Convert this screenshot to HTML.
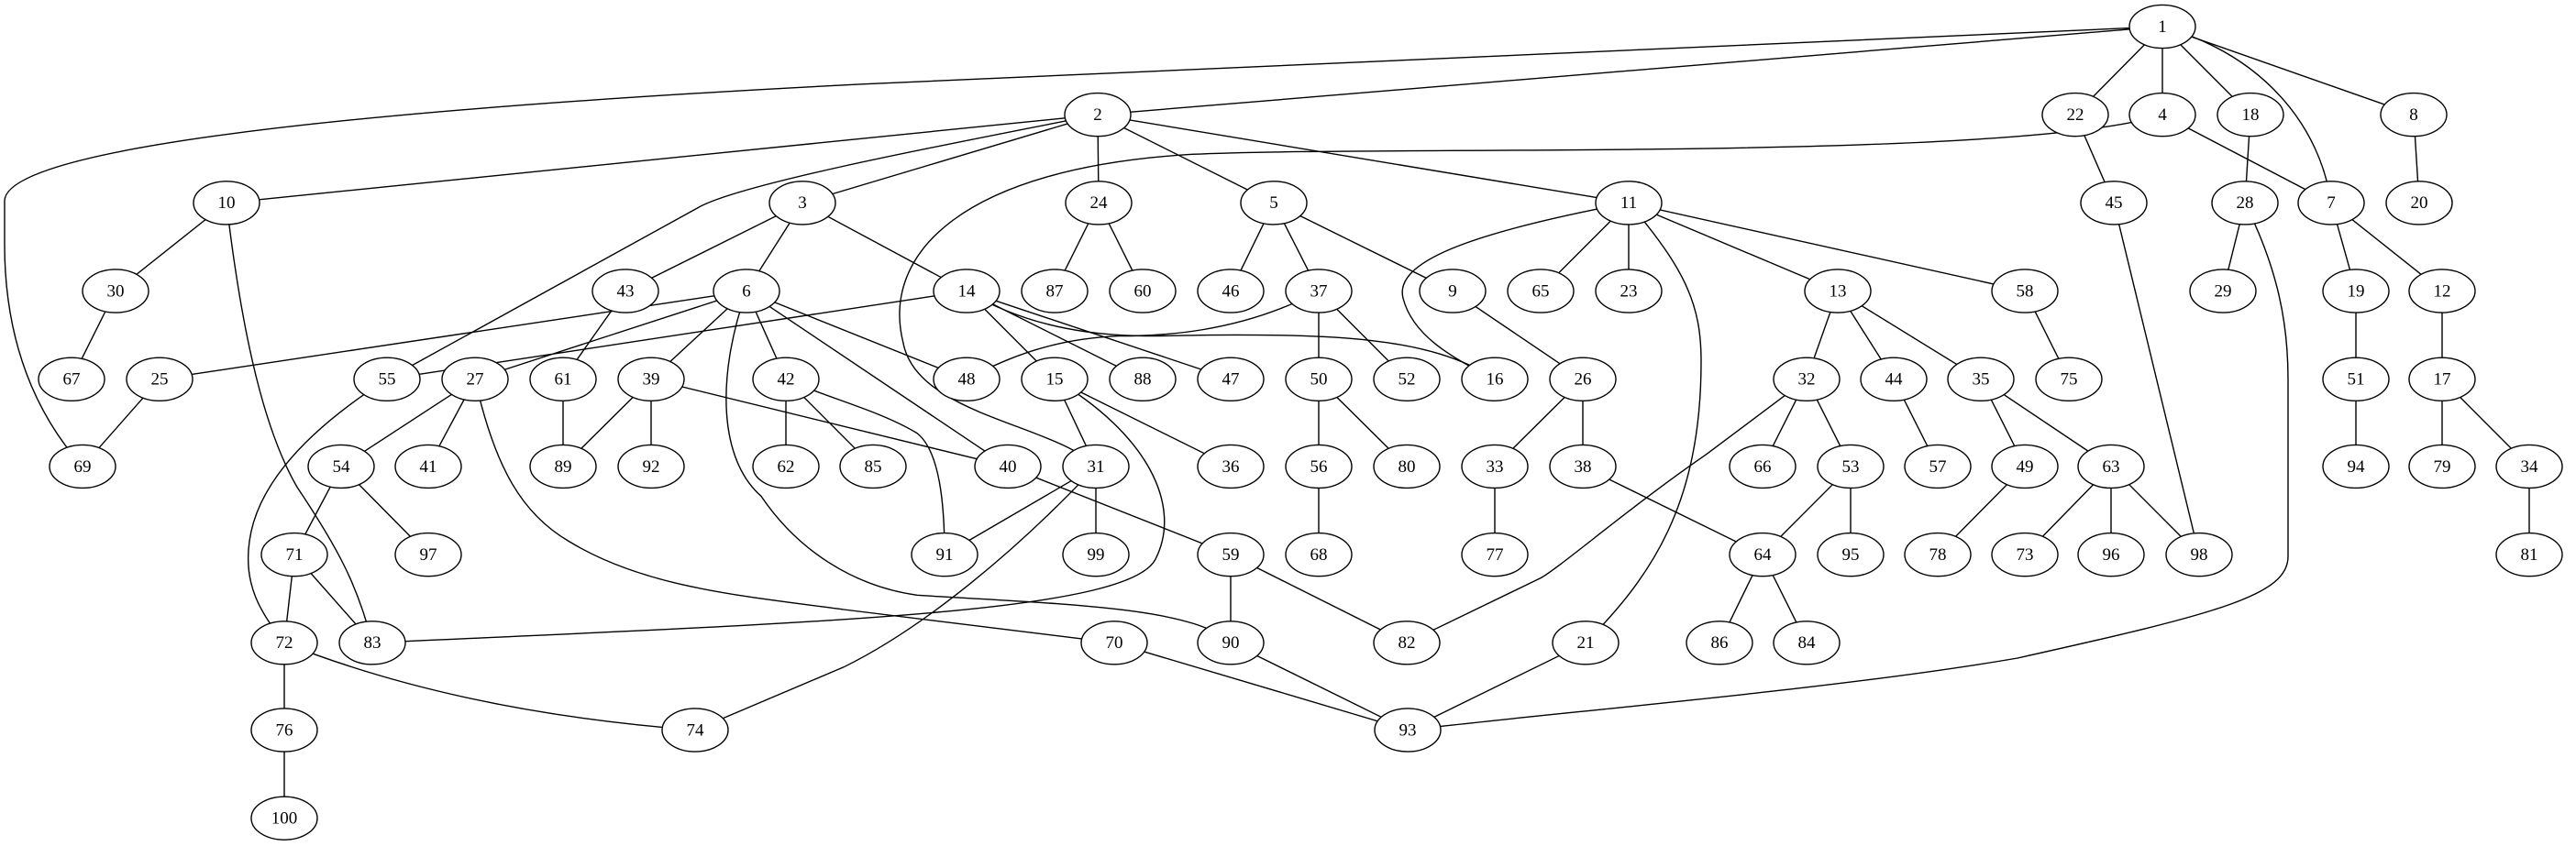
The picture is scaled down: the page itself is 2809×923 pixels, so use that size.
<!DOCTYPE html>
<html><head><meta charset="utf-8"><style>html,body{margin:0;padding:0;background:#fff}svg{display:block}</style></head>
<body>
<svg width="2809" height="923" viewBox="0 0 2809 923" xmlns="http://www.w3.org/2000/svg">
<g transform="matrix(1,0,0,0.9815,0,1.5)">
<g fill="none" stroke="#000" stroke-width="1.4">
<path d="M2358,28L1197,126 M2358,28L2263,126 M2358,28L2358,126 M2358,28L2454,126 M2358,28L2632,126
M1197,126L247,224 M1197,126L875,224 M1197,126L1198,224 M1197,126L1389,224 M1197,126L1776,224
M2358,126L2542,224 M2263,126L2305,224 M2454,126L2448,224 M2632,126L2638,224
M247,224L126,322 M126,322L78,420 M174,420L90,517
M875,224L682,322 M875,224L814,322 M875,224L1054,322
M814,322L174,420 M814,322L518,420 M814,322L710,420 M814,322L857,420 M814,322L1054,420 M814,322L1099,517
M1054,322L422,420 M1054,322L1150,420 M1054,322L1246,420 M1054,322L1342,420
M682,322L614,420 M614,420L614,517 M710,420L614,517 M710,420L710,517 M710,420L1099,517
M857,420L857,517 M857,420L952,517
M518,420L372,517 M518,420L467,517 M372,517L321,615 M372,517L467,615 M321,615L310,713 M321,615L406,713 M310,713L310,810 M310,810L310,908
M1150,420L1195,517 M1150,420L1342,517 M1195,517L1030,615 M1195,517L1195,615 M1099,517L1342,615 M1342,615L1342,713 M1342,615L1534,713
M1215,713L1535,810 M1342,713L1535,810 M1729,713L1535,810
M1198,224L1150,322 M1198,224L1246,322 M1389,224L1342,322 M1389,224L1438,322 M1389,224L1584,322
M1438,322L1438,420 M1438,322L1534,420 M1438,420L1438,517 M1438,420L1534,517 M1438,517L1438,615
M1584,322L1726,420 M1726,420L1630,517 M1726,420L1726,517 M1630,517L1630,615 M1726,517L1922,615
M1776,224L1680,322 M1776,224L1776,322 M1776,224L2004,322 M1776,224L2208,322
M2004,322L1970,420 M2004,322L2065,420 M2004,322L2160,420 M1970,420L1922,517 M1970,420L2018,517
M2018,517L1922,615 M2018,517L2018,615 M1922,615L1875,713 M1922,615L1970,713 M2065,420L2113,517
M2160,420L2208,517 M2160,420L2302,517 M2208,517L2113,615 M2302,517L2208,615 M2302,517L2302,615 M2302,517L2398,615
M2305,224L2398,615 M2208,322L2256,420 M2448,224L2424,322
M2542,224L2569,322 M2542,224L2663,322 M2569,322L2569,420 M2569,420L2569,517 M2663,322L2663,420 M2663,420L2663,517 M2663,420L2758,517 M2758,517L2758,615"/>
<path d="M857,420 C900,440 960,455 1000,480 C1025,500 1030,560 1030,615"/>
<path d="M2358,28 L940,92 C300,125 5,170 5,222 L5,270 C5,380 40,460 90,517"/>
<path d="M1197,126 C1000,165 800,205 760,230 L422,420"/>
<path d="M2358,126 C2200,178 1500,160 1300,170 C1050,185 960,280 985,380 C1000,460 1150,470 1195,517"/>
<path d="M2358,28 C2470,60 2530,140 2542,224"/>
<path d="M247,224 C265,380 290,480 324,540 C370,610 390,650 406,713"/>
<path d="M814,322 C780,420 785,510 830,550 C870,610 930,650 1000,660 C1150,670 1300,672 1342,713"/>
<path d="M518,420 C540,520 570,570 620,600 C700,650 800,660 920,676 L1215,713"/>
<path d="M422,420 C330,480 280,540 272,600 C265,650 285,680 310,713"/>
<path d="M310,713 Q500,790 758,810"/>
<path d="M1150,420 C1250,480 1290,560 1260,620 C1230,680 900,690 406,713"/>
<path d="M1195,517 C1100,620 1000,700 920,740 L758,810"/>
<path d="M1054,322 C1150,380 1250,372 1310,371 C1450,370 1560,372 1630,420"/>
<path d="M1438,322 C1350,370 1260,372 1220,372 C1150,375 1100,395 1054,420"/>
<path d="M1776,224 C1600,258 1520,290 1530,330 C1540,370 1580,395 1630,420"/>
<path d="M1776,224 C1840,300 1855,340 1855,400 C1855,560 1800,640 1729,713"/>
<path d="M1970,420 L1860,504 C1780,560 1700,630 1680,641 L1534,713"/>
<path d="M2448,224 C2485,300 2495,360 2495,420 L2495,617 C2495,660 2420,680 2200,730 C2000,765 1700,790 1535,810"/>
</g>
<g fill="#fff" stroke="#000" stroke-width="1.4">
<ellipse cx="2358" cy="28" rx="36" ry="24"/><ellipse cx="1197" cy="126" rx="36" ry="24"/><ellipse cx="2263" cy="126" rx="36" ry="24"/><ellipse cx="2358" cy="126" rx="36" ry="24"/><ellipse cx="2454" cy="126" rx="36" ry="24"/><ellipse cx="2632" cy="126" rx="36" ry="24"/>
<ellipse cx="247" cy="224" rx="36" ry="24"/><ellipse cx="875" cy="224" rx="36" ry="24"/><ellipse cx="1198" cy="224" rx="36" ry="24"/><ellipse cx="1389" cy="224" rx="36" ry="24"/><ellipse cx="1776" cy="224" rx="36" ry="24"/><ellipse cx="2305" cy="224" rx="36" ry="24"/><ellipse cx="2448" cy="224" rx="36" ry="24"/><ellipse cx="2542" cy="224" rx="36" ry="24"/><ellipse cx="2638" cy="224" rx="36" ry="24"/>
<ellipse cx="126" cy="322" rx="36" ry="24"/><ellipse cx="682" cy="322" rx="36" ry="24"/><ellipse cx="814" cy="322" rx="36" ry="24"/><ellipse cx="1054" cy="322" rx="36" ry="24"/><ellipse cx="1150" cy="322" rx="36" ry="24"/><ellipse cx="1246" cy="322" rx="36" ry="24"/><ellipse cx="1342" cy="322" rx="36" ry="24"/><ellipse cx="1438" cy="322" rx="36" ry="24"/><ellipse cx="1584" cy="322" rx="36" ry="24"/><ellipse cx="1680" cy="322" rx="36" ry="24"/><ellipse cx="1776" cy="322" rx="36" ry="24"/><ellipse cx="2004" cy="322" rx="36" ry="24"/><ellipse cx="2208" cy="322" rx="36" ry="24"/><ellipse cx="2424" cy="322" rx="36" ry="24"/><ellipse cx="2569" cy="322" rx="36" ry="24"/><ellipse cx="2663" cy="322" rx="36" ry="24"/>
<ellipse cx="78" cy="420" rx="36" ry="24"/><ellipse cx="174" cy="420" rx="36" ry="24"/><ellipse cx="422" cy="420" rx="36" ry="24"/><ellipse cx="518" cy="420" rx="36" ry="24"/><ellipse cx="614" cy="420" rx="36" ry="24"/><ellipse cx="710" cy="420" rx="36" ry="24"/><ellipse cx="857" cy="420" rx="36" ry="24"/><ellipse cx="1054" cy="420" rx="36" ry="24"/><ellipse cx="1150" cy="420" rx="36" ry="24"/><ellipse cx="1246" cy="420" rx="36" ry="24"/><ellipse cx="1342" cy="420" rx="36" ry="24"/><ellipse cx="1438" cy="420" rx="36" ry="24"/><ellipse cx="1534" cy="420" rx="36" ry="24"/><ellipse cx="1630" cy="420" rx="36" ry="24"/><ellipse cx="1726" cy="420" rx="36" ry="24"/><ellipse cx="1970" cy="420" rx="36" ry="24"/><ellipse cx="2065" cy="420" rx="36" ry="24"/><ellipse cx="2160" cy="420" rx="36" ry="24"/><ellipse cx="2256" cy="420" rx="36" ry="24"/><ellipse cx="2569" cy="420" rx="36" ry="24"/><ellipse cx="2663" cy="420" rx="36" ry="24"/>
<ellipse cx="90" cy="517" rx="36" ry="24"/><ellipse cx="372" cy="517" rx="36" ry="24"/><ellipse cx="467" cy="517" rx="36" ry="24"/><ellipse cx="614" cy="517" rx="36" ry="24"/><ellipse cx="710" cy="517" rx="36" ry="24"/><ellipse cx="857" cy="517" rx="36" ry="24"/><ellipse cx="952" cy="517" rx="36" ry="24"/><ellipse cx="1099" cy="517" rx="36" ry="24"/><ellipse cx="1195" cy="517" rx="36" ry="24"/><ellipse cx="1342" cy="517" rx="36" ry="24"/><ellipse cx="1438" cy="517" rx="36" ry="24"/><ellipse cx="1534" cy="517" rx="36" ry="24"/><ellipse cx="1630" cy="517" rx="36" ry="24"/><ellipse cx="1726" cy="517" rx="36" ry="24"/><ellipse cx="1922" cy="517" rx="36" ry="24"/><ellipse cx="2018" cy="517" rx="36" ry="24"/><ellipse cx="2113" cy="517" rx="36" ry="24"/><ellipse cx="2208" cy="517" rx="36" ry="24"/><ellipse cx="2302" cy="517" rx="36" ry="24"/><ellipse cx="2569" cy="517" rx="36" ry="24"/><ellipse cx="2663" cy="517" rx="36" ry="24"/><ellipse cx="2758" cy="517" rx="36" ry="24"/>
<ellipse cx="321" cy="615" rx="36" ry="24"/><ellipse cx="467" cy="615" rx="36" ry="24"/><ellipse cx="1030" cy="615" rx="36" ry="24"/><ellipse cx="1195" cy="615" rx="36" ry="24"/><ellipse cx="1342" cy="615" rx="36" ry="24"/><ellipse cx="1438" cy="615" rx="36" ry="24"/><ellipse cx="1630" cy="615" rx="36" ry="24"/><ellipse cx="1922" cy="615" rx="36" ry="24"/><ellipse cx="2018" cy="615" rx="36" ry="24"/><ellipse cx="2113" cy="615" rx="36" ry="24"/><ellipse cx="2208" cy="615" rx="36" ry="24"/><ellipse cx="2302" cy="615" rx="36" ry="24"/><ellipse cx="2398" cy="615" rx="36" ry="24"/><ellipse cx="2758" cy="615" rx="36" ry="24"/>
<ellipse cx="310" cy="713" rx="36" ry="24"/><ellipse cx="406" cy="713" rx="36" ry="24"/><ellipse cx="1215" cy="713" rx="36" ry="24"/><ellipse cx="1342" cy="713" rx="36" ry="24"/><ellipse cx="1534" cy="713" rx="36" ry="24"/><ellipse cx="1729" cy="713" rx="36" ry="24"/><ellipse cx="1875" cy="713" rx="36" ry="24"/><ellipse cx="1970" cy="713" rx="36" ry="24"/>
<ellipse cx="310" cy="810" rx="36" ry="24"/><ellipse cx="758" cy="810" rx="36" ry="24"/><ellipse cx="1535" cy="810" rx="36" ry="24"/><ellipse cx="310" cy="908" rx="36" ry="24"/>
</g>
<g font-family="'Liberation Serif',serif" font-size="19" text-anchor="middle" fill="#000">
<text x="2358" y="34">1</text><text x="1197" y="132">2</text><text x="2263" y="132">22</text><text x="2358" y="132">4</text><text x="2454" y="132">18</text><text x="2632" y="132">8</text>
<text x="247" y="230">10</text><text x="875" y="230">3</text><text x="1198" y="230">24</text><text x="1389" y="230">5</text><text x="1776" y="230">11</text><text x="2305" y="230">45</text><text x="2448" y="230">28</text><text x="2542" y="230">7</text><text x="2638" y="230">20</text>
<text x="126" y="328">30</text><text x="682" y="328">43</text><text x="814" y="328">6</text><text x="1054" y="328">14</text><text x="1150" y="328">87</text><text x="1246" y="328">60</text><text x="1342" y="328">46</text><text x="1438" y="328">37</text><text x="1584" y="328">9</text><text x="1680" y="328">65</text><text x="1776" y="328">23</text><text x="2004" y="328">13</text><text x="2208" y="328">58</text><text x="2424" y="328">29</text><text x="2569" y="328">19</text><text x="2663" y="328">12</text>
<text x="78" y="426">67</text><text x="174" y="426">25</text><text x="422" y="426">55</text><text x="518" y="426">27</text><text x="614" y="426">61</text><text x="710" y="426">39</text><text x="857" y="426">42</text><text x="1054" y="426">48</text><text x="1150" y="426">15</text><text x="1246" y="426">88</text><text x="1342" y="426">47</text><text x="1438" y="426">50</text><text x="1534" y="426">52</text><text x="1630" y="426">16</text><text x="1726" y="426">26</text><text x="1970" y="426">32</text><text x="2065" y="426">44</text><text x="2160" y="426">35</text><text x="2256" y="426">75</text><text x="2569" y="426">51</text><text x="2663" y="426">17</text>
<text x="90" y="523">69</text><text x="372" y="523">54</text><text x="467" y="523">41</text><text x="614" y="523">89</text><text x="710" y="523">92</text><text x="857" y="523">62</text><text x="952" y="523">85</text><text x="1099" y="523">40</text><text x="1195" y="523">31</text><text x="1342" y="523">36</text><text x="1438" y="523">56</text><text x="1534" y="523">80</text><text x="1630" y="523">33</text><text x="1726" y="523">38</text><text x="1922" y="523">66</text><text x="2018" y="523">53</text><text x="2113" y="523">57</text><text x="2208" y="523">49</text><text x="2302" y="523">63</text><text x="2569" y="523">94</text><text x="2663" y="523">79</text><text x="2758" y="523">34</text>
<text x="321" y="621">71</text><text x="467" y="621">97</text><text x="1030" y="621">91</text><text x="1195" y="621">99</text><text x="1342" y="621">59</text><text x="1438" y="621">68</text><text x="1630" y="621">77</text><text x="1922" y="621">64</text><text x="2018" y="621">95</text><text x="2113" y="621">78</text><text x="2208" y="621">73</text><text x="2302" y="621">96</text><text x="2398" y="621">98</text><text x="2758" y="621">81</text>
<text x="310" y="719">72</text><text x="406" y="719">83</text><text x="1215" y="719">70</text><text x="1342" y="719">90</text><text x="1534" y="719">82</text><text x="1729" y="719">21</text><text x="1875" y="719">86</text><text x="1970" y="719">84</text>
<text x="310" y="816">76</text><text x="758" y="816">74</text><text x="1535" y="816">93</text><text x="310" y="914">100</text>
</g>
</g>
</svg>
</body></html>
